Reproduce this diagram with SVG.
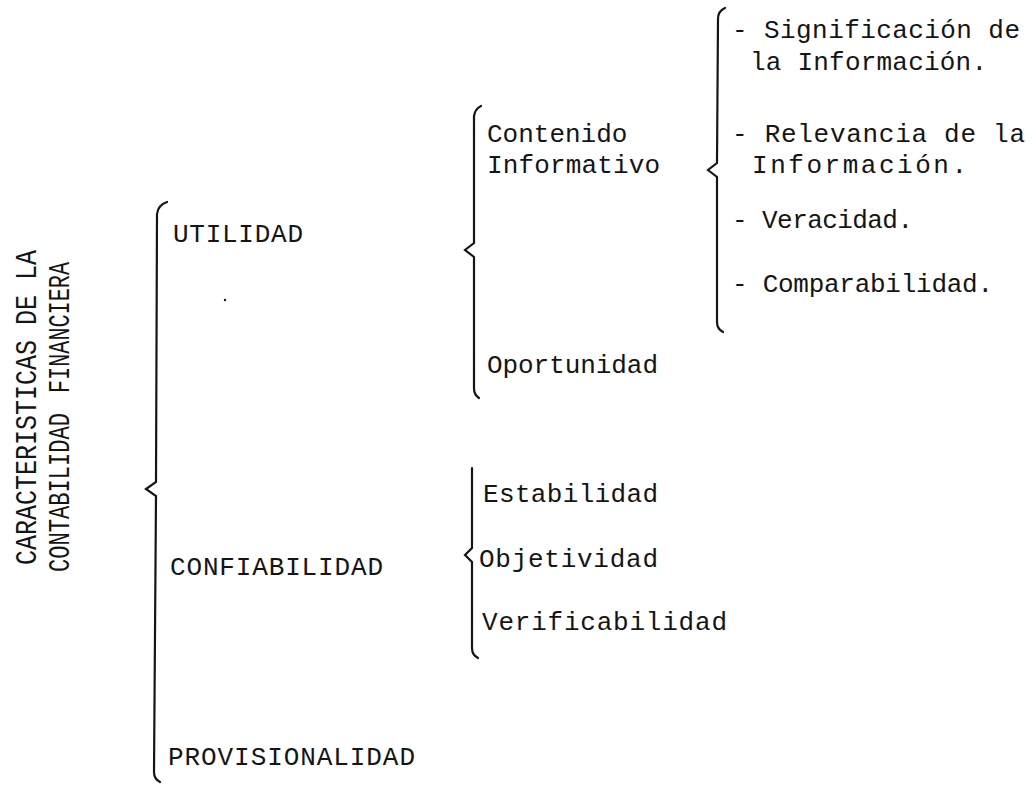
<svg xmlns="http://www.w3.org/2000/svg" width="1036" height="785" viewBox="0 0 1036 785">
  <style>
    .t { font-family: "Liberation Mono", "DejaVu Sans Mono", monospace; font-size: 26px; fill: #151515; }
    .title { font-size: 29px; }
    .br { fill: none; stroke: #151515; stroke-width: 2.2; stroke-linecap: round; stroke-linejoin: miter; }
  </style>
  <rect width="1036" height="785" fill="#ffffff"/>

  <!-- braces -->
  <g id="connectors">
    <path class="br" d="M167,202 Q158,205 157,214 L156,482 L146,489 L156,496 L154,772 Q154,779 160,782"/>
    <path class="br" d="M481,106 Q475,109 474,116 L474,243 L465,250 L474,257 L474,388 Q474,395 479,398"/>
    <path class="br" d="M472,468 L472,548 L465,555 L472,562 L472,648 Q472,655 478,658"/>
    <path class="br" d="M725,8 Q718,11 718,19 L717,163 L708,170 L717,177 L717,322 Q717,329 723,332"/>
  </g>

  <!-- title, read bottom to top -->
  <g id="title">
    <text class="t title" transform="translate(36,565) rotate(-90)" textLength="315" lengthAdjust="spacingAndGlyphs">CARACTERISTICAS DE LA</text>
    <text class="t title" transform="translate(69,572) rotate(-90)" textLength="159" lengthAdjust="spacingAndGlyphs">CONTABILIDAD</text>
    <text class="t title" transform="translate(69,393) rotate(-90)" textLength="131" lengthAdjust="spacingAndGlyphs">FINANCIERA</text>
  </g>

  <g id="utilidad"><text class="t" x="173" y="242" textLength="130">UTILIDAD</text></g>
  <g id="confiabilidad"><text class="t" x="170" y="575" textLength="213">CONFIABILIDAD</text></g>
  <g id="provisionalidad"><text class="t" x="168" y="765" textLength="247">PROVISIONALIDAD</text></g>

  <g id="contenido-informativo">
    <text class="t" x="487" y="142">Contenido</text>
    <text class="t" x="487" y="173" textLength="173">Informativo</text>
  </g>
  <g id="oportunidad"><text class="t" x="487" y="373" textLength="171">Oportunidad</text></g>

  <g id="estabilidad"><text class="t" x="483" y="502" textLength="175">Estabilidad</text></g>
  <g id="objetividad"><text class="t" x="479" y="567" textLength="179">Objetividad</text></g>
  <g id="verificabilidad"><text class="t" x="482" y="630" textLength="245">Verificabilidad</text></g>

  <g id="significacion">
    <text class="t" x="732" y="38" textLength="288">- Significación de</text>
    <text class="t" x="750" y="70" textLength="237">la Información.</text>
  </g>
  <g id="relevancia">
    <text class="t" x="732" y="142" textLength="293">- Relevancia de la</text>
    <text class="t" x="752" y="173" textLength="215">Información.</text>
  </g>
  <g id="veracidad"><text class="t" x="732" y="228" textLength="181">- Veracidad.</text></g>
  <g id="comparabilidad"><text class="t" x="732" y="292" textLength="261">- Comparabilidad.</text></g>

  <circle cx="225" cy="300" r="1.2" fill="#151515"/>
</svg>
